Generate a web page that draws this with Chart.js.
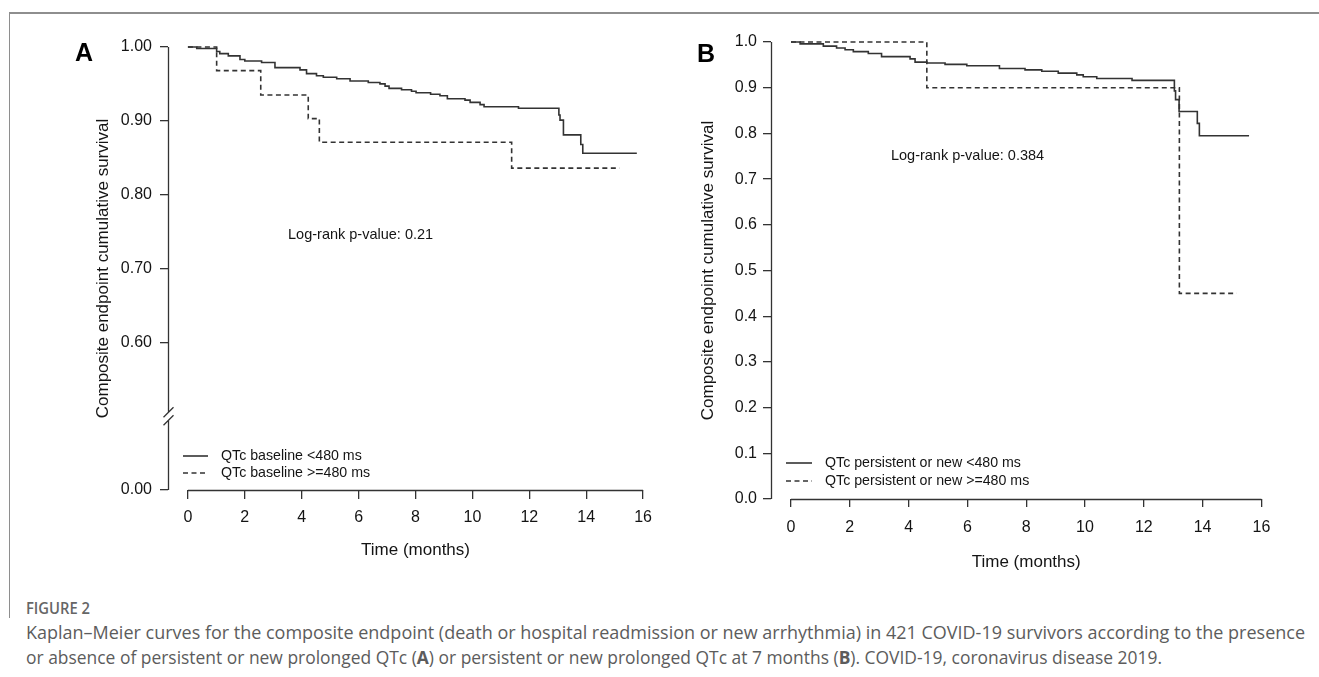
<!DOCTYPE html>
<html><head><meta charset="utf-8">
<script src="https://cdn.jsdelivr.net/npm/chart.js@4.4.0/dist/chart.umd.min.js"></script>
<style>
html,body{margin:0;padding:0;background:#fff;}
#page{position:relative;width:1319px;height:677px;overflow:hidden;background:#fff;}
#frameTop{position:absolute;left:9px;top:12px;width:1310px;height:0;border-top:2px solid #8e8e8e;}
#frameLeft{position:absolute;left:9px;top:12px;width:0;height:606px;border-left:1px solid #8e8e8e;}
canvas{position:absolute;top:0;}
.cap{position:absolute;left:26px;white-space:nowrap;transform-origin:0 0;font-family:'Open Sans','Noto Sans',sans-serif;color:#5c5c5c;}
</style></head>
<body><div id="page">
<div id="frameTop"></div><div id="frameLeft"></div>
<canvas id="cA" width="680" height="580" style="left:0;width:680px;height:580px"></canvas>
<canvas id="cB" width="659" height="590" style="left:660px;width:659px;height:590px"></canvas>
<div class="cap" id="capHead" style="top:598px;font-size:16px;line-height:20px;font-weight:600;color:#666">FIGURE 2</div>
<div class="cap" id="capL1" style="top:621px;font-size:18.5px;line-height:22px">Kaplan–Meier curves for the composite endpoint (death or hospital readmission or new arrhythmia) in 421 COVID-19 survivors according to the presence</div>
<div class="cap" id="capL2" style="top:646px;font-size:18.5px;line-height:22px">or absence of persistent or new prolonged QTc (<b>A</b>) or persistent or new prolonged QTc at 7 months (<b>B</b>). COVID-19, coronavirus disease 2019.</div>
</div>
<script>
// ---------------- data ----------------
const monthTicks = [0, 2, 4, 6, 8, 10, 12, 14, 16];

// Panel A: QTc baseline
const timeA_low = [0, 0.31, 1.01, 1.12, 1.42, 1.83, 2.0, 2.59, 3.06, 3.94, 4.17, 4.52, 4.76, 5.23, 5.70, 6.34, 6.75, 6.93, 7.07, 7.51, 7.86, 8.02, 8.53, 8.86, 9.12, 9.74, 9.92, 10.27, 10.41, 11.62, 13.04, 13.08, 13.20, 13.81, 13.88, 15.78];
const survA_low = [1.0, 0.998, 0.994, 0.991, 0.988, 0.983, 0.981, 0.979, 0.972, 0.969, 0.964, 0.961, 0.959, 0.957, 0.954, 0.952, 0.950, 0.947, 0.944, 0.942, 0.940, 0.938, 0.936, 0.934, 0.930, 0.928, 0.925, 0.922, 0.919, 0.917, 0.908, 0.901, 0.881, 0.868, 0.856, 0.856];
const timeA_high = [0, 1.01, 2.56, 4.23, 4.62, 11.38, 15.17];
const survA_high = [1.0, 0.968, 0.935, 0.903, 0.871, 0.836, 0.836];

// Panel B: QTc persistent or new
const timeB_low = [0, 0.31, 1.10, 1.55, 1.84, 2.12, 2.63, 3.08, 4.05, 4.22, 4.62, 5.24, 5.98, 7.09, 7.96, 8.53, 9.09, 9.72, 9.94, 10.40, 11.60, 13.04, 13.08, 13.20, 13.82, 13.89, 15.58];
const survB_low = [1.0, 0.996, 0.991, 0.987, 0.983, 0.979, 0.975, 0.968, 0.963, 0.956, 0.954, 0.951, 0.948, 0.942, 0.939, 0.936, 0.932, 0.928, 0.924, 0.920, 0.916, 0.893, 0.874, 0.848, 0.822, 0.795, 0.795];
const timeB_high = [0, 4.62, 13.21, 15.16];
const survB_high = [1.0, 0.900, 0.450, 0.450];

// axis ticks (panel A has a broken axis: bottom position carries the 0.00 label)
const yTicksA = [0.40, 0.60, 0.70, 0.80, 0.90, 1.00];
const yTickLabelsA = ['0.00', '0.60', '0.70', '0.80', '0.90', '1.00'];
const yBreakA = 0.50;
const yTicksB = [0, 0.1, 0.2, 0.3, 0.4, 0.5, 0.6, 0.7, 0.8, 0.9, 1.0];
const yTickLabelsB = ['0.0', '0.1', '0.2', '0.3', '0.4', '0.5', '0.6', '0.7', '0.8', '0.9', '1.0'];

const seriesNamesA = ['QTc baseline <480 ms', 'QTc baseline >=480 ms'];
const seriesNamesB = ['QTc persistent or new <480 ms', 'QTc persistent or new >=480 ms'];
const pValueA = 'Log-rank p-value: 0.21';
const pValueB = 'Log-rank p-value: 0.384';
const pPosA = [3.52, 0.745];
const pPosB = [3.40, 0.751];
const xTitle = 'Time (months)';
const yTitle = 'Composite endpoint cumulative survival';

// ---------------- drawing ----------------
const INK = '#333333';
const TXT = '#141414';
const FONT = "'Liberation Sans', Arial, Helvetica, sans-serif";
Chart.defaults.font.family = FONT;
Chart.defaults.color = TXT;

function pts(t, s) { return t.map((v, i) => ({ x: v, y: s[i] })); }

const decor = {
  id: 'decor',
  afterDraw(chart, _a, o) {
    const { ctx, chartArea: ca, scales: { x, y } } = chart;
    ctx.save();
    ctx.strokeStyle = INK; ctx.lineWidth = 1.3; ctx.setLineDash([]);
    // x axis line (from first to last tick)
    const xb = Math.round(ca.bottom) + 0.5;
    ctx.beginPath();
    ctx.moveTo(x.getPixelForValue(monthTicks[0]), xb);
    ctx.lineTo(x.getPixelForValue(monthTicks[monthTicks.length - 1]), xb);
    ctx.stroke();
    // y axis line, with optional break
    const xl = Math.round(ca.left) + 0.5;
    const yTop = y.getPixelForValue(y.max), yBot = y.getPixelForValue(y.min);
    ctx.beginPath();
    if (o.breakAt != null) {
      const yb = y.getPixelForValue(o.breakAt), g = 4;
      ctx.moveTo(xl, yTop); ctx.lineTo(xl, yb - g);
      ctx.moveTo(xl, yb + g); ctx.lineTo(xl, yBot);
      for (const c of [yb - g, yb + g]) { ctx.moveTo(xl - 5, c + 5); ctx.lineTo(xl + 5, c - 5); }
    } else {
      ctx.moveTo(xl, yTop); ctx.lineTo(xl, yBot);
    }
    ctx.stroke();
    // legend
    ctx.fillStyle = TXT; ctx.textBaseline = 'middle'; ctx.textAlign = 'left';
    ctx.font = '14.2px ' + FONT;
    chart.data.datasets.forEach((ds, i) => {
      const yy = o.legY + i * o.legDy;
      ctx.strokeStyle = ds.borderColor; ctx.lineWidth = ds.borderWidth;
      ctx.setLineDash(ds.borderDash || []);
      ctx.beginPath(); ctx.moveTo(o.legX1, yy); ctx.lineTo(o.legX2, yy); ctx.stroke();
      ctx.setLineDash([]);
      ctx.fillText(ds.label, o.legTX, yy);
    });
    // p-value text
    ctx.font = '14.5px ' + FONT;
    ctx.fillText(o.pText, x.getPixelForValue(o.pAt[0]), y.getPixelForValue(o.pAt[1]));
    // panel letter
    ctx.font = 'bold 25px ' + FONT; ctx.textBaseline = 'alphabetic'; ctx.fillStyle = '#000';
    ctx.fillText(o.letter, o.letterX, o.letterY);
    ctx.restore();
  }
};

function makeChart(id, cfg) {
  return new Chart(document.getElementById(id), {
    type: 'line',
    data: {
      datasets: [
        { label: cfg.names[0], data: pts(cfg.t1, cfg.s1), borderColor: INK, borderWidth: 1.6, borderDash: [], stepped: true, pointRadius: 0, fill: false, clip: false },
        { label: cfg.names[1], data: pts(cfg.t2, cfg.s2), borderColor: INK, borderWidth: 1.6, borderDash: [5, 3.5], stepped: true, pointRadius: 0, fill: false, clip: false }
      ]
    },
    options: {
      responsive: false, animation: false, parsing: true,
      layout: { padding: cfg.pad },
      plugins: { legend: { display: false }, tooltip: { enabled: false }, decor: cfg.decor },
      scales: {
        x: {
          type: 'linear', min: cfg.xmin, max: cfg.xmax,
          afterBuildTicks: s => { s.ticks = monthTicks.map(v => ({ value: v })); },
          afterFit: s => { s.height = cfg.xh; },
          border: { display: false },
          grid: { drawOnChartArea: false, drawTicks: true, tickLength: cfg.xtl, color: INK, tickColor: INK, lineWidth: 1.3 },
          ticks: { autoSkip: false, maxRotation: 0, padding: cfg.xtp, font: { size: 16 }, color: TXT },
          title: { display: true, text: xTitle, font: { size: 17 }, color: TXT, padding: { top: 0, bottom: cfg.xTitlePad } }
        },
        y: {
          type: 'linear', min: cfg.ymin, max: 1.0,
          afterBuildTicks: s => { s.ticks = cfg.yt.map(v => ({ value: v })); },
          afterFit: s => { s.width = cfg.yw; },
          border: { display: false },
          grid: { drawOnChartArea: false, drawTicks: true, tickLength: 8, color: INK, tickColor: INK, lineWidth: 1.3 },
          ticks: { autoSkip: false, padding: cfg.ytp, font: { size: 16 }, color: TXT, callback: v => cfg.yl[cfg.yt.indexOf(v)] },
          title: { display: true, text: yTitle, font: { size: 17 }, color: TXT, padding: { top: cfg.yTitlePad, bottom: 0 } }
        }
      }
    },
    plugins: [decor]
  });
}

makeChart('cA', {
  names: seriesNamesA, t1: timeA_low, s1: survA_low, t2: timeA_high, s2: survA_high,
  pad: { top: 47, right: 17, bottom: 0, left: 0 },
  xmin: -0.7, xmax: 16.7, xh: 90, xtl: 9, xtp: 9, xTitlePad: 19.8,
  ymin: 0.40, yt: yTicksA, yl: yTickLabelsA, yw: 168, ytp: 8, yTitlePad: 92.8,
  decor: { breakAt: yBreakA, legX1: 183, legX2: 208, legTX: 221, legY: 456, legDy: 17, pText: pValueA, pAt: pPosA, letter: 'A', letterX: 75, letterY: 61 }
});

makeChart('cB', {
  names: seriesNamesB, t1: timeB_low, s1: survB_low, t2: timeB_high, s2: survB_high,
  pad: { top: 42, right: 37.6, bottom: 0, left: 0 },
  xmin: -0.68, xmax: 16.68, xh: 91, xtl: 8, xtp: 11, xTitlePad: 17.8,
  ymin: 0, yt: yTicksB, yl: yTickLabelsB, yw: 111, ytp: 6, yTitlePad: 37.8,
  decor: { breakAt: null, legX1: 126, legX2: 152, legTX: 165, legY: 463, legDy: 18, pText: pValueB, pAt: pPosB, letter: 'B', letterX: 37, letterY: 62 }
});

// caption: fit the condensed caption lines to the reference line widths
(function () {
  const fit = (id, target) => {
    const el = document.getElementById(id);
    const w = el.getBoundingClientRect().width;
    el.style.transform = 'scaleX(' + (target / w) + ')';
  };
  fit('capL1', 1279);
  fit('capL2', 1136);
  fit('capHead', 64);
})();
</script>
</body></html>
